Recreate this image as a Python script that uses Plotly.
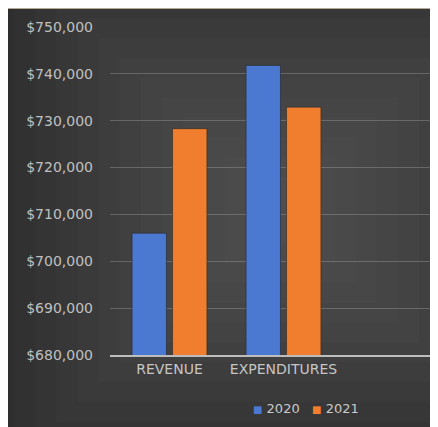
import plotly.graph_objects as go

categories = ["REVENUE", "EXPENDITURES"]
series_names = ["2020", "2021"]
values_2020 = [706000, 741800]
values_2021 = [728300, 732900]
y_ticks = [680000, 690000, 700000, 710000, 720000, 730000, 740000, 750000]

OFF = 8            # page body margin: figure is drawn 8px right/down on screen
W, H = 438 - 2 * OFF, 427
ML, MT, MR = 110 - OFF, 27 - OFF, 0
MB = H - (355 - OFF)
colors = {"2020": "#4b79d2", "2021": "#f07e2e"}

pw, ph = W - ML - MR, H - MT - MB


def px_to_paper_x(sx):
    return (sx - OFF - ML) / pw


def px_to_paper_y(sy):
    return (H - MB - (sy - OFF)) / ph


fig = go.Figure()
for name, vals in zip(series_names, [values_2020, values_2021]):
    fig.add_trace(go.Bar(
        x=categories, y=vals, name=name, showlegend=False,
        marker=dict(color=colors[name], line=dict(color="rgba(40,40,40,0.6)", width=1)),
    ))

shapes = []
X0, X1 = px_to_paper_x(8), px_to_paper_x(W + OFF)
Y0, Y1 = px_to_paper_y(H + OFF), px_to_paper_y(9)
shapes.append(dict(type="rect", xref="paper", yref="paper", x0=X0, x1=X1, y0=Y0, y1=Y1,
                   fillcolor="#2e2e2e", line=dict(width=0), layer="below"))
steps = 12
cx, cy = px_to_paper_x(280), px_to_paper_y(210)
for i in range(steps):
    f = i / steps
    hw = (X1 - X0) * 0.6 * (1 - f) + 0.04
    hh = (Y1 - Y0) * 0.56 * (1 - f) + 0.04
    shapes.append(dict(type="rect", xref="paper", yref="paper",
                       x0=max(X0, cx - hw), x1=min(X1, cx + hw),
                       y0=max(Y0, cy - hh), y1=min(Y1, cy + hh),
                       fillcolor="rgba(255,255,255,0.016)", line=dict(width=0), layer="below"))

legend_text = (f'<span style="color:{colors["2020"]};font-size:10px">■</span> 2020   '
               f'<span style="color:{colors["2021"]};font-size:10px">■</span> 2021')

cat_px = 114.0
x_start = -0.5 - (112.5 - 110) / cat_px
x_end = x_start + pw / cat_px

fig.update_layout(
    width=W, height=H,
    margin=dict(l=ML, r=MR, t=MT, b=MB, autoexpand=False),
    paper_bgcolor="#b5aa98",
    plot_bgcolor="rgba(0,0,0,0)",
    barmode="group",
    bargap=0.29,
    bargroupgap=0.15,
    shapes=shapes,
    font=dict(family="DejaVu Sans", size=14, color="#c4c4c4"),
    showlegend=False,
    annotations=[dict(text=legend_text, xref="paper", yref="paper",
                      x=px_to_paper_x(306), y=px_to_paper_y(408),
                      xanchor="center", yanchor="middle", showarrow=False,
                      font=dict(size=13, color="#cacaca"))],
)
fig.update_xaxes(
    range=[x_start, x_end], showgrid=False, showline=True, linecolor="#bdbdbd", linewidth=1.5,
    ticks="", tickfont=dict(size=14, color="#c6c6c6"), fixedrange=True, automargin=False,
)
fig.update_yaxes(
    range=[680000, 750000], tickvals=y_ticks, tickformat="$,.0f",
    showgrid=True, gridcolor="rgba(150,150,150,0.45)", gridwidth=1,
    zeroline=False, ticks="", ticklabelstandoff=16, automargin=False,
    tickfont=dict(size=14, color="#c0c0c0"),
)

fig.write_html("out.html")
